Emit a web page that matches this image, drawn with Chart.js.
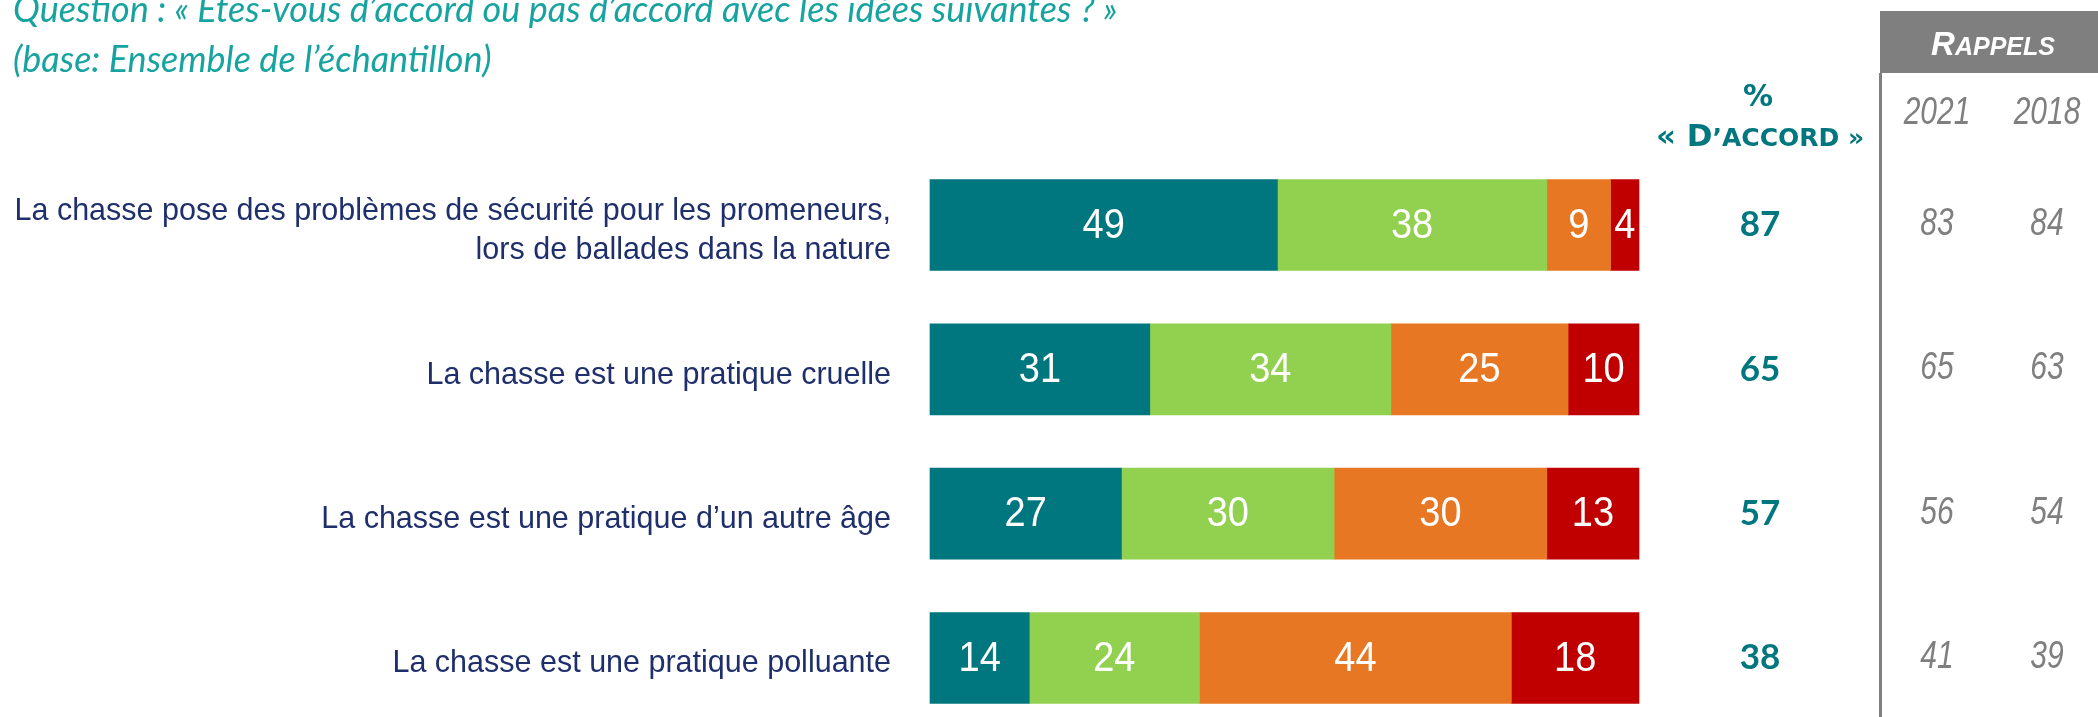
<!DOCTYPE html>
<html>
<head>
<meta charset="utf-8">
<script src="https://cdn.jsdelivr.net/npm/chart.js@4.4.1/dist/chart.umd.min.js"></script>
<style>
  html, body { margin: 0; padding: 0; background: #fff; }
  #wrap { width: 2098px; height: 717px; }
</style>
</head>
<body>
<div id="wrap"><canvas id="chart" width="2098" height="717"></canvas></div>
<script>
"use strict"

// ---- data ----
const statements = [
    ["La chasse pose des problèmes de sécurité pour les promeneurs,", "lors de ballades dans la nature"],
    "La chasse est une pratique cruelle",
    "La chasse est une pratique d’un autre âge",
    "La chasse est une pratique polluante"
];
const seriesNames = ["Tout à fait d’accord", "Plutôt d’accord", "Plutôt pas d’accord", "Pas du tout d’accord"];
const toutAFait   = [49, 31, 27, 14];
const plutotOui   = [38, 34, 30, 24];
const plutotNon   = [9, 25, 30, 44];
const pasDuTout   = [4, 10, 13, 18];
const totalAccord = [87, 65, 57, 38];
const rappelYears = ["2021", "2018"];
const rappel2021  = [83, 65, 56, 41];
const rappel2018  = [84, 63, 54, 39];

const colors = ["#00767E", "#92D050", "#E77722", "#C00000"];
const TEAL = "#00767E";
const GREY = "#7F7F7F";

Chart.defaults.font.family = "'Liberation Sans', Arial, sans-serif";

// tall narrow text like the original
function tallText(ctx, txt, x, y, stretch, font) {
    ctx.save();
    ctx.translate(x, y);
    ctx.scale(1, stretch);
    ctx.font = font;
    ctx.textAlign = "center";
    ctx.textBaseline = "middle";
    ctx.fillText(txt, 0, 0);
    ctx.restore();
}

// values inside the bars
const barValues = {
    id: "barValues",
    afterDatasetsDraw(chart) {
        const ctx = chart.ctx;
        ctx.fillStyle = "#fff";
        chart.data.datasets.forEach((ds, di) => {
            chart.getDatasetMeta(di).data.forEach((bar, i) => {
                const p = bar.getProps(["x", "y", "base"], true);
                tallText(ctx, String(ds.data[i]), (p.x + p.base) / 2, p.y + 1, 1.1,
                    "38px 'Liberation Sans', Arial, sans-serif");
            });
        });
    }
};

// header, total column, "rappels" panel
const sidePanel = {
    id: "sidePanel",
    afterDraw(chart) {
        const ctx = chart.ctx;
        const y = chart.scales.y;
        ctx.save();

        // question
        ctx.fillStyle = "#17A39F";
        ctx.font = "italic 36px Lato, 'Open Sans', sans-serif";
        ctx.textAlign = "left";
        ctx.textBaseline = "alphabetic";
        ctx.fillText("Question : « Etes-vous d’accord ou pas d’accord avec les idées suivantes ? »", 13, 22);
        ctx.fillText("(base: Ensemble de l’échantillon)", 13, 72);

        // % d'accord header
        ctx.fillStyle = TEAL;
        ctx.textAlign = "center";
        ctx.font = "bold 30px 'DejaVu Sans', sans-serif";
        ctx.fillText("%", 1758, 106);
        const partA = "« D", partB = "’ACCORD »";
        const fA = "bold 31px 'DejaVu Sans', sans-serif";
        const fB = "bold 25px 'DejaVu Sans', sans-serif";
        ctx.font = fA; const wA = ctx.measureText(partA).width;
        ctx.font = fB; const wB = ctx.measureText(partB).width;
        let sx = 1760 - (wA + wB) / 2;
        ctx.textAlign = "left";
        ctx.font = fA; ctx.fillText(partA, sx, 146);
        ctx.font = fB; ctx.fillText(partB, sx + wA, 146);

        // rappels panel
        ctx.fillStyle = GREY;
        ctx.fillRect(1880, 11, 218, 62);
        ctx.fillRect(1879, 73, 3, 644);
        ctx.fillStyle = "#fff";
        const rA = "R", rB = "APPELS";
        const fR = "italic bold 33px 'Liberation Sans', Arial, sans-serif";
        const fP = "italic bold 25px 'Liberation Sans', Arial, sans-serif";
        ctx.font = fR; const wR = ctx.measureText(rA).width;
        ctx.font = fP; const wP = ctx.measureText(rB).width;
        sx = 1993 - (wR + wP) / 2;
        ctx.font = fR; ctx.fillText(rA, sx, 55);
        ctx.font = fP; ctx.fillText(rB, sx + wR, 55);

        ctx.fillStyle = GREY;
        const italicFont = "italic 30px 'Liberation Sans', Arial, sans-serif";
        tallText(ctx, rappelYears[0], 1937, 113, 1.3, italicFont);
        tallText(ctx, rappelYears[1], 2047, 113, 1.3, italicFont);

        statements.forEach((s, i) => {
            const py = y.getPixelForValue(i);
            ctx.fillStyle = TEAL;
            ctx.font = "bold 35px Lato, 'Open Sans', sans-serif";
            ctx.textAlign = "center";
            ctx.textBaseline = "middle";
            ctx.fillText(String(totalAccord[i]), 1760, py);
            ctx.fillStyle = GREY;
            tallText(ctx, String(rappel2021[i]), 1937, py - 1, 1.3, italicFont);
            tallText(ctx, String(rappel2018[i]), 2047, py - 1, 1.3, italicFont);
        });
        ctx.restore();
    }
};

const series = [toutAFait, plutotOui, plutotNon, pasDuTout];

new Chart(document.getElementById("chart"), {
    type: "bar",
    data: {
        labels: statements,
        datasets: series.map((vals, k) => ({
            label: seriesNames[k],
            data: vals,
            backgroundColor: colors[k],
            borderWidth: 0,
            barThickness: 91,
            clip: false
        }))
    },
    options: {
        indexAxis: "y",
        responsive: false,
        animation: false,
        layout: { padding: { left: 0, right: 459, top: 225, bottom: 59 } },
        plugins: {
            legend: { display: false },
            tooltip: { enabled: false }
        },
        scales: {
            x: {
                stacked: true,
                min: 0,
                max: 100,
                display: false
            },
            y: {
                stacked: true,
                offset: false,
                grid: { display: false },
                border: { display: false },
                afterFit: function (scale) {
                    scale.width = 930;
                    scale.paddingTop = 0;
                    scale.paddingBottom = 0;
                },
                ticks: {
                    color: "#1F2F6C",
                    padding: 31,
                    labelOffset: 6,
                    font: { size: 30.5, lineHeight: 1.3 }
                }
            }
        }
    },
    plugins: [barValues, sidePanel]
});
</script>
</body>
</html>
